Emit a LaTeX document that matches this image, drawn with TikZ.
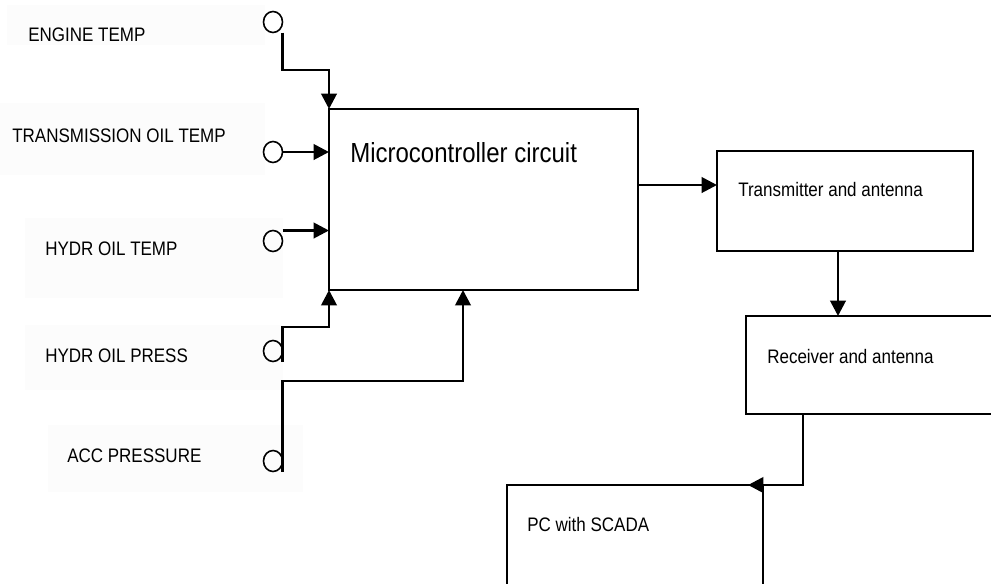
\documentclass[tikz,border=0pt]{standalone}
\usepackage{fontspec}
\usepackage{graphicx}
\setmainfont{Liberation Sans}
\usetikzlibrary{arrows.meta,shapes.geometric}
\newcommand{\vstr}[1]{\scalebox{1}[1.15]{#1}}
\begin{document}
\begin{tikzpicture}[x=0.75pt,y=-0.75pt,
  box/.style={draw,line width=1.7pt,inner sep=0pt,outer sep=0pt},
  lbl/.style={anchor=base west,inner sep=0pt,font=\fontsize{12.75pt}{14pt}\selectfont},
  big/.style={anchor=base west,inner sep=0pt,font=\fontsize{18pt}{20pt}\selectfont},
  port/.style={draw,ellipse,line width=1.2pt,minimum width=14.25pt,minimum height=15.75pt,inner sep=0pt,outer sep=0pt},
  conn/.style={line width=2.1pt,-{Triangle[length=11.5pt,width=11.5pt]}},
  bg/.style={fill=black!1.2}]
\useasboundingbox (0,0) rectangle (991,583);
\clip (0,0) rectangle (991,583);
\fill[white] (0,0) rectangle (991,583);
% faint label backgrounds
\fill[bg] (7,5) rectangle (265,45);
\fill[bg] (0,103) rectangle (265,175);
\fill[bg] (25,218) rectangle (283,298);
\fill[bg] (25,325) rectangle (283,390);
\fill[bg] (48,425) rectangle (303,492);
% labels
\node[lbl] (tEng) at (28,41) {\vstr{ENGINE TEMP}};
\node[lbl] (tTrans) at (12,142) {\vstr{TRANSMISSION OIL TEMP}};
\node[lbl] (tHT) at (45,255) {\vstr{HYDR OIL TEMP}};
\node[lbl] (tHP) at (45,362) {\vstr{HYDR OIL PRESS}};
\node[lbl] (tAcc) at (67,462) {\vstr{ACC PRESSURE}};
% ports
\node[port] (c1) at (273,22) {};
\node[port] (c2) at (273,152) {};
\node[port] (c3) at (273,241) {};
\node[port] (c4) at (273,351) {};
\node[port] (c5) at (273,461) {};
% boxes
\node[box,minimum width=231.75pt,minimum height=135.75pt] (mc) at (483.5,199.5) {};
\node[box,minimum width=192pt,minimum height=75pt] (tx) at (845,201) {};
\node[box,minimum width=198pt,minimum height=73.5pt] (rx) at (878,365) {};
\node[box,minimum width=192pt,minimum height=93.75pt] (pc) at (635,547.5) {};
\node[big] (tMc) at (350,162) {\vstr{Microcontroller circuit}};
\node[lbl] (tTx) at (738,196) {\vstr{Transmitter and antenna}};
\node[lbl] (tRx) at (767,363) {\vstr{Receiver and antenna}};
\node[lbl] (tPc) at (527,531) {\vstr{PC with SCADA}};
% junction coordinates
\coordinate (j1) at (329,70);
\coordinate (j4) at (329,327);
\coordinate (j5) at (463,381);
\coordinate (t6) at (717,185);
\coordinate (t7) at (838,316);
\coordinate (s8) at (803,414);
\coordinate (t8) at (748,485);
% connectors
\draw[conn] (c1.east |- c1.south) |- (j1) -- (mc.north west);
\draw[conn] (c2.east) -- (mc.west |- c2.east);
\draw[conn] (c3.east |- c3.north) -- (mc.west |- c3.north);
\draw[conn] (c4.east |- c4.south) |- (j4) -- (mc.south west);
\draw[conn] (c5.east |- c5.south) |- (j5) -- (j5 |- mc.south);
\draw[conn] (mc.east |- t6) -- (t6);
\draw[conn] (tx.south -| t7) -- (t7);
\draw[conn] (s8) |- (t8);
\end{tikzpicture}
\end{document}
